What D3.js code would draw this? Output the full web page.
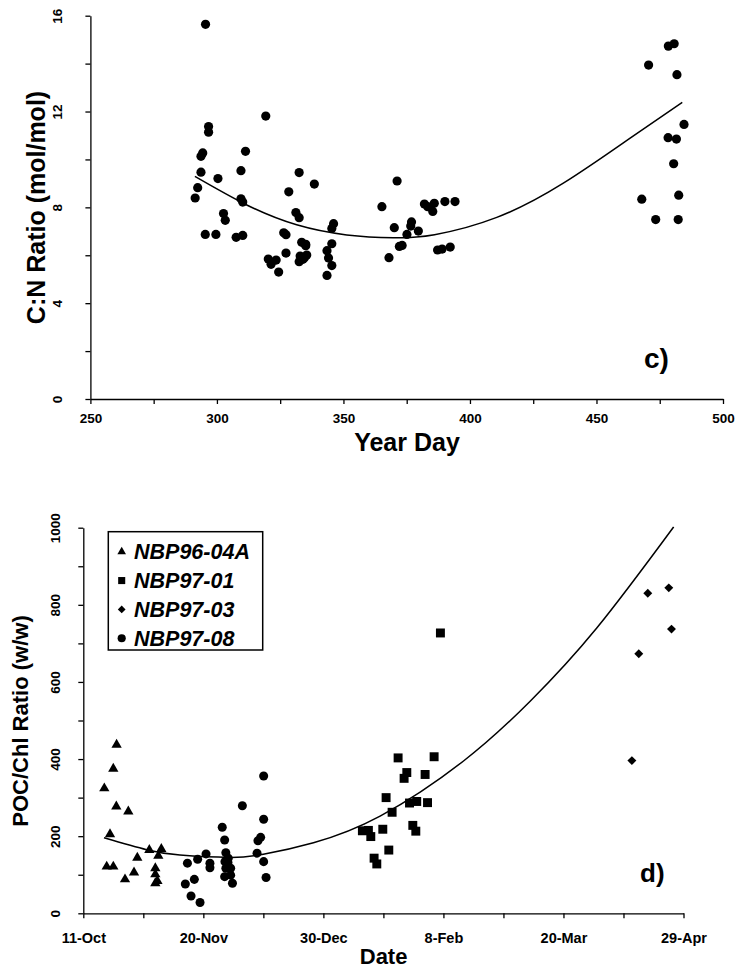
<!DOCTYPE html>
<html>
<head>
<meta charset="utf-8">
<script src="https://cdn.jsdelivr.net/npm/d3@7"></script>
<style>
body { margin: 0; background: #fff; }
svg { display: block; font-family: "Liberation Sans", Arial, sans-serif; font-weight: bold; }
</style>
</head>
<body>
<svg id="chart" width="736" height="970"></svg>
<script>
// ---- panel c) : C:N ratio against year day ----
var cnDay = [295.5, 319.3, 296.7, 296.7, 294.4, 293.7, 311.3, 293.7, 309.5, 300.4,
  292.4, 291.4, 309.5, 310.2, 302.6, 303.3, 295.4, 299.6, 307.6, 310.2,
  328.4, 332.5, 338.5, 331.2, 332.5, 326.4, 327.3, 327.3, 320.3, 321.4,
  323.4, 324.4, 333.5, 335.1, 335.1, 332.9, 332.5, 334.6, 335.5, 334.0,
  346.1, 345.4, 345.4, 343.5, 344.1, 345.4, 343.5, 365.2, 371.2, 370.1,
  368.0, 372.1, 373.2, 375.1, 376.9, 376.6, 379.6, 382.0, 383.3, 385.3,
  385.9, 390.1, 394.1, 387.2, 389.0, 392.2, 467.9, 473.4, 482.3, 482.5,
  480.5, 478.3, 481.6, 484.6, 481.8, 470.6, 478.4, 480.7];
var cnRatio = [15.64, 11.81, 11.37, 11.14, 10.27, 10.13, 10.34, 9.47, 9.53, 9.20,
  8.82, 8.39, 8.36, 8.22, 7.74, 7.46, 6.87, 6.87, 6.75, 6.83,
  8.65, 9.45, 8.97, 7.78, 7.57, 6.94, 6.86, 6.09, 5.84, 5.62,
  5.80, 5.30, 6.54, 6.46, 6.40, 5.97, 5.73, 5.90, 6.01, 5.83,
  7.32, 7.12, 6.48, 6.19, 5.89, 5.57, 5.16, 8.03, 9.10, 7.15,
  5.90, 6.37, 6.41, 6.87, 7.39, 7.22, 7.01, 8.14, 8.03, 7.83,
  8.17, 8.24, 8.24, 6.22, 6.26, 6.34, 8.34, 7.49, 7.49, 8.51,
  9.82, 10.91, 10.85, 11.46, 13.54, 13.94, 14.73, 14.83];
// trend line
var cnFitDay = [291.3, 311.8, 331.5, 351.3, 369.7, 386, 410.6, 436.9, 463.3, 483.9];
var cnFitRatio = [9.29, 8.10, 7.27, 6.85, 6.73, 6.86, 7.58, 9.01, 10.89, 12.38];
var yearDayTicks = [250, 300, 350, 400, 450, 500];
var cnTicks = [0, 4, 8, 12, 16];

// ---- panel d) : POC/Chl ratio against date (days after 11-Oct) ----
var cruises = ["NBP96-04A", "NBP97-01", "NBP97-03", "NBP97-08"];
var startDate = "1996-10-11";
var dayA = [11.1, 10.0, 7.0, 11.0, 15.0, 8.9, 7.8, 10.0, 13.9, 16.9, 18.0, 22.0, 26.0, 25.0, 24.0, 24.0, 24.7, 24.0];
var pocA = [437, 375, 324, 277, 264, 205, 121, 121, 88, 106, 144, 164, 167, 149, 117, 101, 84, 78];
var dayB = [119, 104.9, 116.9, 107.8, 106.9, 113.9, 100.9, 102.9, 108.7, 111.1,
  114.7, 109.8, 110.8, 99.8, 93.0, 95.0, 95.8, 101.8, 96.9, 97.8];
var pocB = [727, 403, 406, 365, 350, 360, 300, 262, 286, 290,
  287, 228, 213, 218, 214, 215, 199, 164, 143, 128];
var dayC = [182.8, 185.1, 188.1, 195.1, 196.0];
var pocC = [396, 673, 830, 844, 737];
var dayD = [34.7, 34.0, 37.0, 35.9, 38.9, 38.1, 40.9, 42.2, 42.2, 46.3,
  47.1, 47.5, 48.3, 47.2, 47.5, 47.1, 49.1, 49.7, 49.1, 48.2,
  53.0, 57.9, 58.2, 59.1, 60.1, 60.1, 60.1, 60.9];
var pocD = [130, 76, 88, 45, 28, 140, 154, 130, 118, 223,
  190, 157, 143, 134, 117, 95, 99, 78, 117, 132,
  279, 156, 188, 197, 356, 244, 134, 93];
var pocFitDay = [6.9, 21.1, 32.2, 48.9, 60, 76.7, 98.9, 126.7, 148.9, 171.1, 196.7];
var pocFitRatio = [196, 165, 151, 145, 153, 183, 252, 395, 550, 740, 1002];
var dateTicks = ["1996-10-11", "1996-11-20", "1996-12-30", "1997-02-08", "1997-03-20", "1997-04-29"];
var pocTicks = [0, 200, 400, 600, 800, 1000];

var svg = d3.select("#chart");
svg.append("rect").attr("width", 736).attr("height", 970).attr("fill", "#fff");

function styleAxis(g, size) {
  g.selectAll(".domain, .tick line").attr("stroke", "#000").attr("stroke-width", 1.3);
  g.selectAll("text").attr("font-size", size).attr("font-weight", "bold")
    .attr("font-family", "'Liberation Sans', Arial, sans-serif").attr("fill", "#000");
}

function rotateYLabels(g, off) {
  g.selectAll("text")
    .attr("transform", "rotate(-90)")
    .attr("x", 0).attr("y", -off).attr("dy", "0.35em")
    .attr("text-anchor", "middle");
}

// ================= top panel =================
var x1 = d3.scaleLinear().domain([250, 500]).range([90.4, 723]);
var y1 = d3.scaleLinear().domain([0, 16]).range([399, 15.7]);

var gx1 = svg.append("g").attr("transform", "translate(0," + y1(0) + ")")
  .call(d3.axisBottom(x1).tickValues(d3.range(250, 501, 25)).tickSize(5).tickSizeOuter(0).tickPadding(9)
    .tickFormat(function(d) { return yearDayTicks.indexOf(d) >= 0 ? d : ""; }));
styleAxis(gx1, 13.5);

var gy1 = svg.append("g").attr("transform", "translate(" + x1(250) + ",0)")
  .call(d3.axisLeft(y1).tickValues(d3.range(0, 17, 2)).tickSize(5).tickSizeOuter(0)
    .tickFormat(function(d) { return cnTicks.indexOf(d) >= 0 ? d : ""; }));
styleAxis(gy1, 13.5);
rotateYLabels(gy1, 33);

var fit1 = d3.line().curve(d3.curveNatural)
  .x(function(d, i) { return x1(cnFitDay[i]); })
  .y(function(d, i) { return y1(cnFitRatio[i]); });
svg.append("path").attr("d", fit1(cnFitDay))
  .attr("fill", "none").attr("stroke", "#000").attr("stroke-width", 1.5);

svg.append("g").selectAll("circle")
  .data(cnDay)
  .enter().append("circle")
    .attr("cx", function(d) { return x1(d); })
    .attr("cy", function(d, i) { return y1(cnRatio[i]); })
    .attr("r", 4.6)
    .attr("fill", "#000");

svg.append("text")
  .attr("transform", "translate(36,207.5) rotate(-90)")
  .attr("text-anchor", "middle").attr("dy", "0.35em")
  .attr("font-size", 25)
  .text("C:N Ratio (mol/mol)");

svg.append("text")
  .attr("x", 407).attr("y", 450.5)
  .attr("text-anchor", "middle")
  .attr("font-size", 25)
  .text("Year Day");

svg.append("text")
  .attr("x", 644).attr("y", 368)
  .attr("font-size", 28)
  .text("c)");

// ================= bottom panel =================
var parse = d3.utcParse("%Y-%m-%d");
var fmt = d3.utcFormat("%-d-%b");
var t0 = parse(startDate);
function toDate(d) { return new Date(t0.getTime() + d * 864e5); }

var majors = dateTicks.map(parse);
var minors = d3.pairs(majors).map(function(p) { return new Date((+p[0] + +p[1]) / 2); });
var allTicks = majors.concat(minors);

var x2 = d3.scaleUtc().domain([majors[0], majors[majors.length - 1]]).range([83.3, 683.5]);
var y2 = d3.scaleLinear().domain([0, 1000]).range([913.3, 527.7]);

var gx2 = svg.append("g").attr("transform", "translate(0," + y2(0) + ")")
  .call(d3.axisBottom(x2).tickValues(allTicks).tickSize(5).tickSizeOuter(0).tickPadding(14)
    .tickFormat(function(d) {
      return majors.some(function(m) { return +m === +d; }) ? fmt(d) : "";
    }));
styleAxis(gx2, 14.5);

var gy2 = svg.append("g").attr("transform", "translate(" + x2.range()[0] + ",0)")
  .call(d3.axisLeft(y2).tickValues(d3.range(0, 1001, 100)).tickSize(5).tickSizeOuter(0)
    .tickFormat(function(d) { return pocTicks.indexOf(d) >= 0 ? d : ""; }));
styleAxis(gy2, 13.5);
rotateYLabels(gy2, 28);

var fit2 = d3.line().curve(d3.curveNatural)
  .x(function(d, i) { return x2(toDate(pocFitDay[i])); })
  .y(function(d, i) { return y2(pocFitRatio[i]); });
svg.append("path").attr("d", fit2(pocFitDay))
  .attr("fill", "none").attr("stroke", "#000").attr("stroke-width", 1.5);

var seriesDays = [dayA, dayB, dayC, dayD];
var seriesPoc = [pocA, pocB, pocC, pocD];
var shapes = [
  { type: d3.symbolTriangle, size: 46, rot: 0, legendSize: 32 },
  { type: d3.symbolSquare, size: 80, rot: 0, legendSize: 50 },
  { type: d3.symbolSquare, size: 40, rot: 45, legendSize: 30 },
  { type: d3.symbolCircle, size: 64, rot: 0, legendSize: 52 }
];

seriesDays.forEach(function(days, s) {
  var sym = d3.symbol().type(shapes[s].type).size(shapes[s].size);
  svg.append("g").selectAll("path")
    .data(days)
    .enter().append("path")
      .attr("d", sym)
      .attr("transform", function(d, i) {
        return "translate(" + x2(toDate(d)) + "," + y2(seriesPoc[s][i]) + ") rotate(" + shapes[s].rot + ")";
      })
      .attr("fill", "#000");
});

// legend
var legend = svg.append("g");
legend.append("rect")
  .attr("x", 108.3).attr("y", 531.7).attr("width", 154.4).attr("height", 118.3)
  .attr("fill", "#fff").attr("stroke", "#000").attr("stroke-width", 1.5);
var rowY = d3.scaleLinear().domain([0, 3]).range([551.7, 638.3]);
cruises.forEach(function(name, i) {
  legend.append("path")
    .attr("d", d3.symbol().type(shapes[i].type).size(shapes[i].legendSize)())
    .attr("transform", "translate(121.7," + rowY(i) + ") rotate(" + shapes[i].rot + ")")
    .attr("fill", "#000");
  legend.append("text")
    .attr("x", 134).attr("y", rowY(i)).attr("dy", "0.36em")
    .attr("font-size", 21.5).attr("font-style", "italic")
    .text(name);
});

svg.append("text")
  .attr("transform", "translate(20,721) rotate(-90)")
  .attr("text-anchor", "middle").attr("dy", "0.35em")
  .attr("font-size", 22)
  .text("POC/Chl Ratio (w/w)");

svg.append("text")
  .attr("x", 383.6).attr("y", 964)
  .attr("text-anchor", "middle")
  .attr("font-size", 22)
  .text("Date");

svg.append("text")
  .attr("x", 640).attr("y", 882)
  .attr("font-size", 26)
  .text("d)");
</script>
</body>
</html>
